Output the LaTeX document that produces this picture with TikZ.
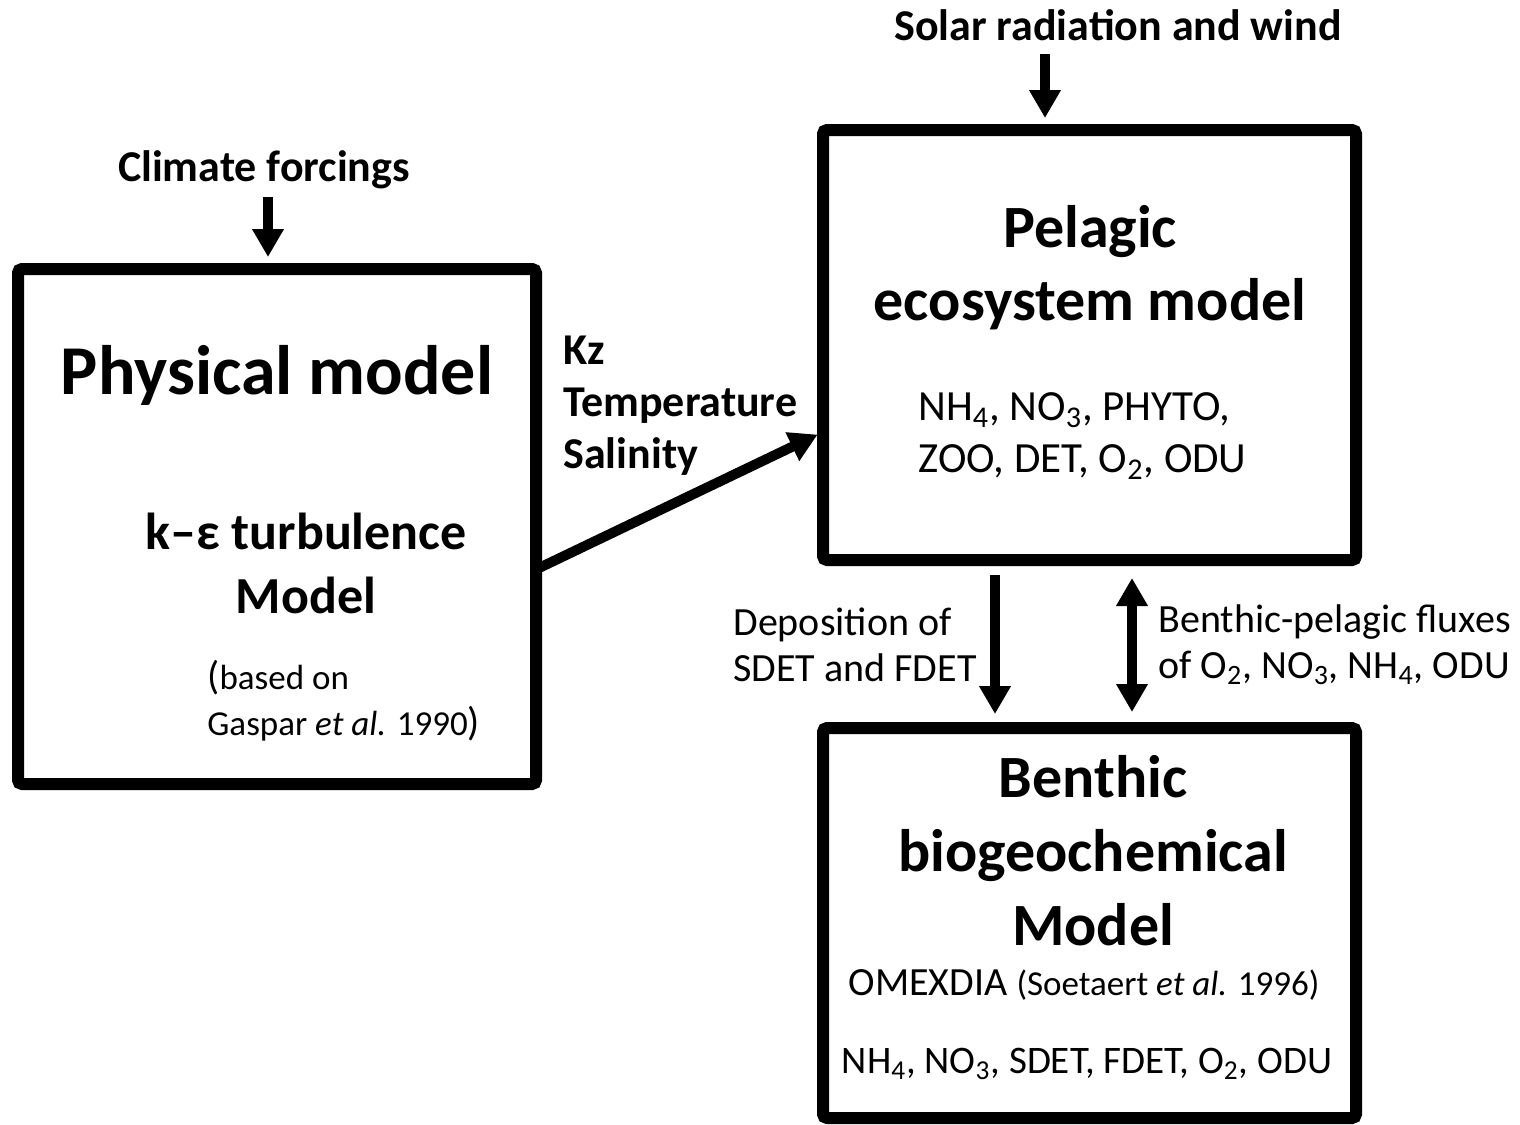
\documentclass[tikz,border=0pt]{standalone}
\usepackage{fontspec}
\setmainfont{Carlito}
\usetikzlibrary{arrows.meta}

\begin{document}
\begin{tikzpicture}[x=0.5pt, y=-0.5pt,
    modelbox/.style={rectangle, draw=black, line width=6pt, rounded corners=2pt, inner sep=0pt},
    label/.style={inner sep=0pt, font=\fontsize{22pt}{26pt}\selectfont\bfseries},
    small/.style={inner sep=0pt, font=\fontsize{20pt}{23pt}\selectfont},
    arrow/.style={-{Triangle[length=14pt,width=15pt]}, line width=5pt, black},
    twoway/.style={{Triangle[length=14pt,width=15pt]}-{Triangle[length=14pt,width=15pt]}, line width=5pt, black}
]
\useasboundingbox (0,0) rectangle (1520,1124);

% the three models
\node[modelbox, minimum width=259pt, minimum height=257.5pt] (phys) at (277,526.5) {};
\node[modelbox, minimum width=266.5pt, minimum height=215pt] (pel) at (1089.5,345) {};
\node[modelbox, minimum width=266.5pt, minimum height=195pt] (benth) at (1089.5,923) {};

% texts inside the boxes
\node[inner sep=0pt, font=\fontsize{35pt}{40pt}\selectfont\bfseries] (physname) at (277,375) {Physical model};
\node[inner sep=0pt, align=center, font=\fontsize{26pt}{32pt}\selectfont\bfseries] (turb) at (306,563) {k–ε turbulence\\Model};
\node[inner sep=0pt, anchor=west, align=left, font=\fontsize{17.5pt}{23pt}\selectfont] (gaspar) at (207,701) {{\fontsize{20pt}{23pt}\selectfont(}based on\\Gaspar \textit{et al.} 1990{\fontsize{20pt}{23pt}\selectfont)}};

\node[inner sep=0pt, align=center, font=\fontsize{30pt}{36.5pt}\selectfont\bfseries] (pelname) at (1090,268) {Pelagic\\ecosystem model};
\node[inner sep=0pt, anchor=west, align=left, font=\fontsize{21.5pt}{26pt}\selectfont] (pelvars) at (918,436) {NH\textsubscript{4}, NO\textsubscript{3}, PHYTO,\\ZOO, DET, O\textsubscript{2}, ODU};

\node[inner sep=0pt, align=center, font=\fontsize{30pt}{37pt}\selectfont\bfseries] (benthname) at (1093,851) {Benthic\\biogeochemical\\Model};
\node[small] (omex) at (1084,985) {OMEXDIA {\fontsize{17.5pt}{20pt}\selectfont(Soetaert \textit{et al.} 1996)}};
\node[small, font=\fontsize{19.5pt}{23pt}\selectfont] (benthvars) at (1087,1064) {NH\textsubscript{4}, NO\textsubscript{3}, SDET, FDET, O\textsubscript{2}, ODU};

% forcings and exchanged quantities
\node[label] (solar) at (1118,25) {Solar radiation and wind};
\node[label] (climate) at (264,170) {Climate forcings};
\node[label, anchor=west, align=left] (kz) at (563,406) {Kz\\Temperature\\Salinity};
\node[small, anchor=west, align=left] (depo) at (733,645) {Deposition of\\SDET and FDET};
\node[small, anchor=west, align=left] (flux) at (1158,645) {Benthic-pelagic fluxes\\of O\textsubscript{2}, NO\textsubscript{3}, NH\textsubscript{4}, ODU};

\coordinate (solarin) at (1045,54);
\coordinate (climin) at (268,197);
\coordinate (kzout) at (539,568);
\coordinate (kzin) at (823,432);
\coordinate (depx) at (995,0);
\coordinate (fluxx) at (1132,0);

\draw[arrow, shorten >=3pt] (solarin) -- (solarin |- pel.north);
\draw[arrow, shorten >=3pt] (climin) -- (climin |- phys.north);
\draw[arrow, shorten >=3pt] (kzout) -- (kzin);
\draw[arrow, shorten <=4.5pt, shorten >=4pt] (pel.south -| depx) -- (benth.north -| depx);
\draw[twoway, shorten <=5pt, shorten >=6pt] (benth.north -| fluxx) -- (pel.south -| fluxx);
\end{tikzpicture}
\end{document}
